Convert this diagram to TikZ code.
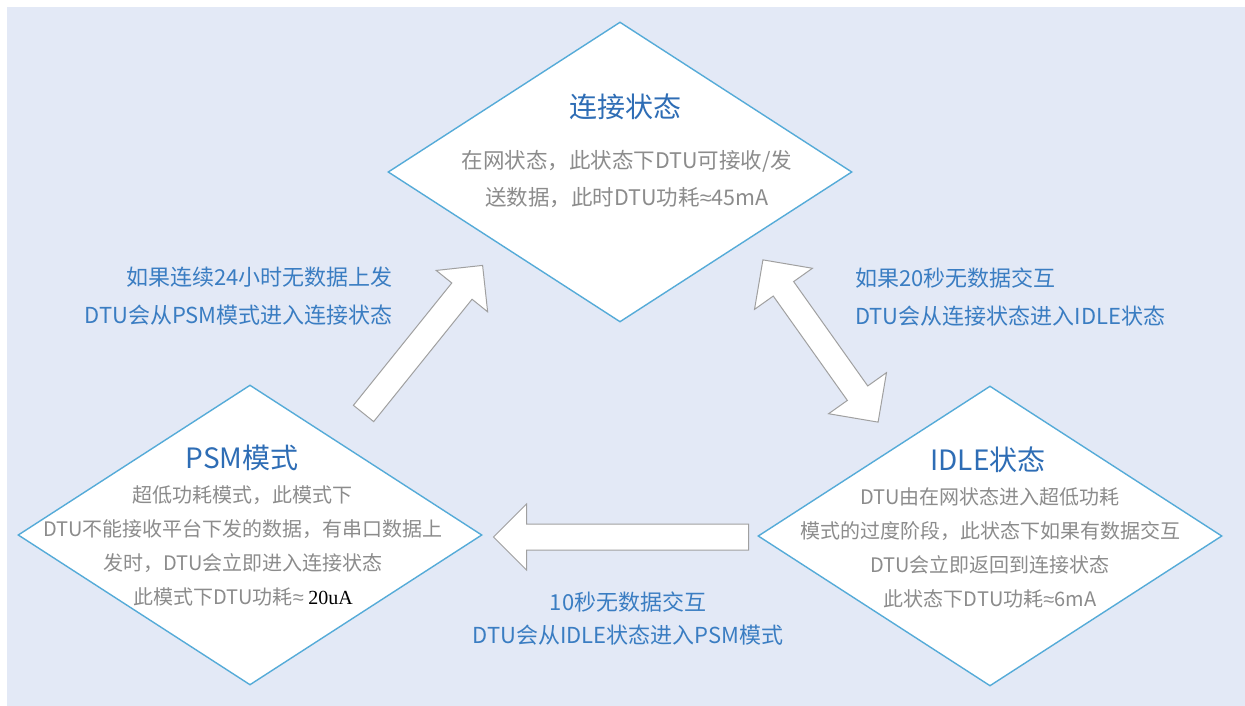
\documentclass[tikz,border=0pt]{standalone}
\usepackage{fontspec}
\setmainfont{Noto Sans CJK SC}
\newfontfamily\valfont{Liberation Serif}
\newfontfamily\symfont{Liberation Sans}
\newcommand\apx{{\symfont ≈}}
\usetikzlibrary{shapes.geometric,shapes.arrows}
\definecolor{bgblue}{HTML}{E3E9F6}
\definecolor{edgeblue}{HTML}{55ABD8}
\definecolor{titleblue}{HTML}{2E6DB5}
\definecolor{noteblue}{HTML}{3A7DC2}
\definecolor{bodygray}{HTML}{8C8C8C}
\definecolor{arrowgray}{HTML}{A0A0A0}
\begin{document}
\begin{tikzpicture}[x=1pt, y=-1pt,
      state/.style = {diamond, draw=edgeblue, fill=white, line width=1.4pt,
        minimum width=464pt, minimum height=300pt, inner sep=0pt},
      title/.style = {font=\fontsize{28}{32}\selectfont, text=titleblue, inner sep=0pt},
      body/.style = {font=\fontsize{20}{34}\selectfont, text=bodygray, align=center, inner sep=0pt},
      note/.style = {font=\fontsize{22}{38}\selectfont, text=noteblue, inner sep=0pt},
      fat/.style = {single arrow, draw=arrowgray, fill=white, line width=1pt,
        inner xsep=0pt, inner ysep=12.5pt, single arrow head extend=20pt,
        sloped, allow upside down},
      fatboth/.style = {double arrow, draw=arrowgray, fill=white, line width=1pt,
        inner xsep=0pt, inner ysep=12pt, double arrow head extend=23pt,
        sloped, allow upside down}]
    \useasboundingbox (0,0) rectangle (1245,706);
    \fill[bgblue] (7,7) rectangle (1245,706);

    % states
    \node[state] (conn) at (620,172) {};
    \node[state] (psm) at (250,535) {};
    \node[state] (idle) at (990,536) {};

    \node[title] (conntitle) at (625,107) {连接状态};
    \node[body, font=\fontsize{21.5}{37}\selectfont] (connbody) at (627,179)
      {在网状态，此状态下DTU可接收/发\\送数据，此时DTU功耗\apx45mA};

    \node[title] (psmtitle) at (242,458) {PSM模式};
    \node[body] (psmbody) at (243,546) {超低功耗模式，此模式下\\
      DTU不能接收平台下发的数据，有串口数据上\\
      发时，DTU会立即进入连接状态\\
      此模式下DTU功耗\apx\ {\valfont\color{black}20uA}};

    \node[title] (idletitle) at (988,460) {IDLE状态};
    \node[body] (idlebody) at (990,548) {DTU由在网状态进入超低功耗\\
      模式的过度阶段，此状态下如果有数据交互\\
      DTU会立即返回到连接状态\\
      此状态下DTU功耗\apx6mA};

    % transitions
    \coordinate (psmout) at (359.5,418.5);
    \coordinate (connin) at (478.5,270.5);
    \coordinate (connend) at (763,260);
    \coordinate (idleend) at (878,422);
    \coordinate (idleout) at (755,537);
    \coordinate (psmin) at (500,537);

    \path (psmout) -- node[fat, minimum height=190pt] (uparrow) {} (connin);
    \path (connend) -- node[fatboth, minimum height=199pt] (sidearrow) {} (idleend);
    \path (idleout) -- node[fat, minimum height=255pt] (backarrow) {} (psmin);

    \node[note, anchor=east, align=right] (upnote) at (393,296)
      {如果连续24小时无数据上发\\DTU会从PSM模式进入连接状态};
    \node[note, anchor=west, align=left] (sidenote) at (855,297)
      {如果20秒无数据交互\\DTU会从连接状态进入IDLE状态};
    \node[note, align=center, font=\fontsize{22}{33}\selectfont] (backnote) at (628,619)
      {10秒无数据交互\\DTU会从IDLE状态进入PSM模式};

  \end{tikzpicture}
\end{document}
